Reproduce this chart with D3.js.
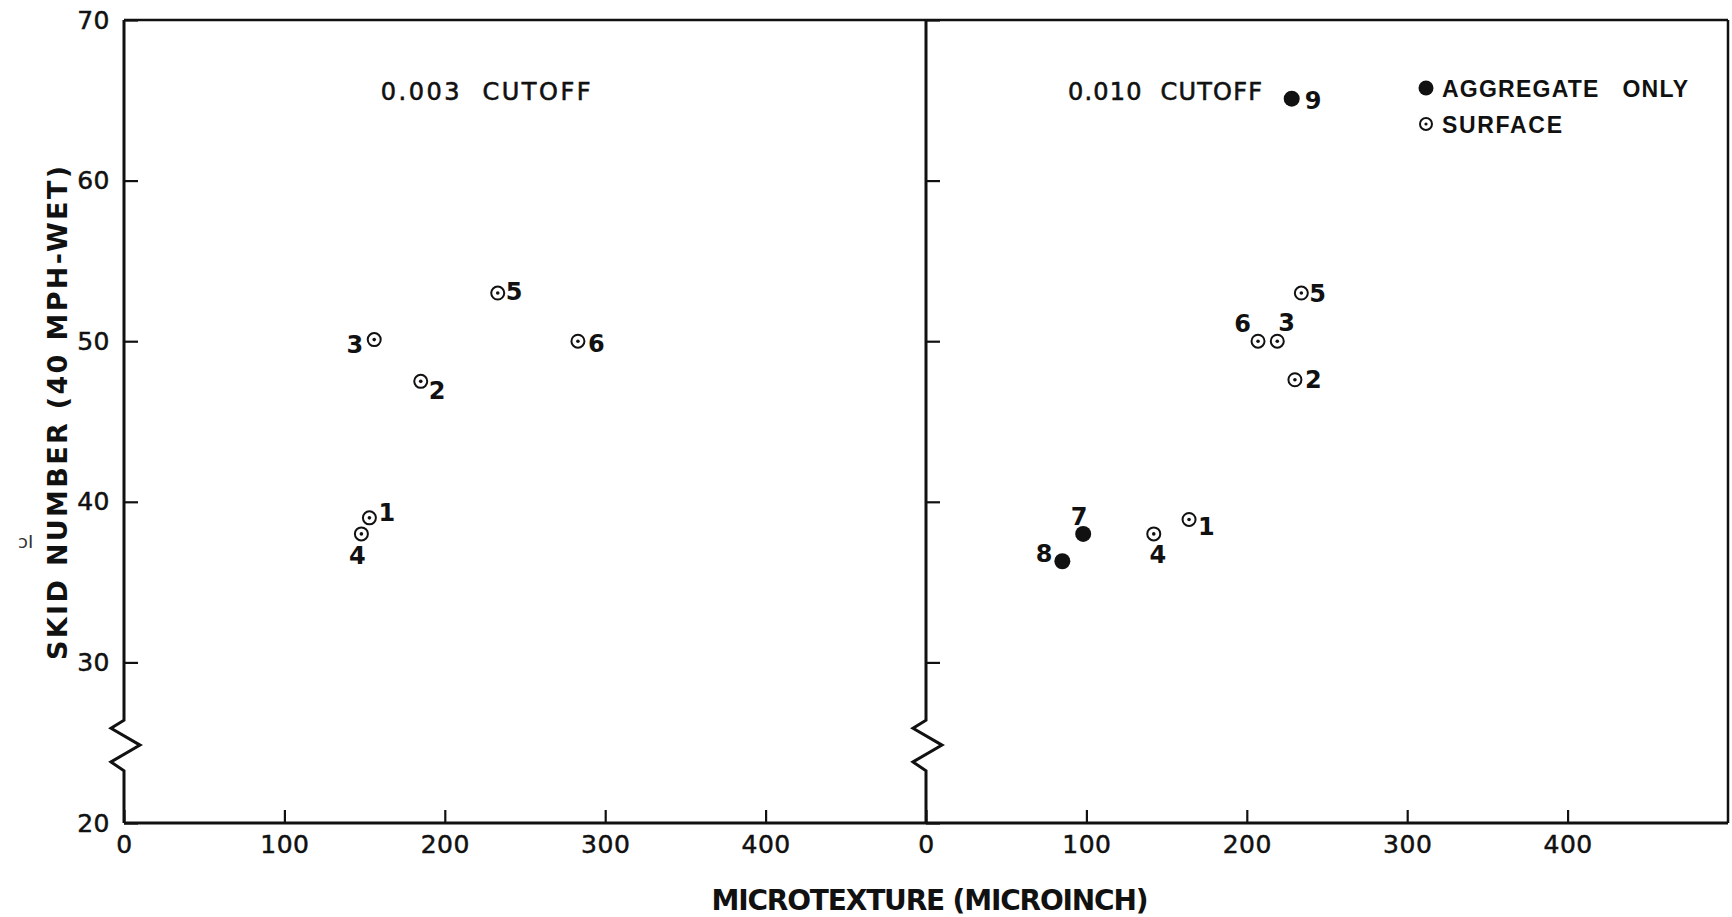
<!DOCTYPE html>
<html>
<head>
<meta charset="utf-8">
<script src="https://cdn.jsdelivr.net/npm/d3@7"></script>
<style>
  body { margin: 0; background: #fff; }
  svg text { font-family: "DejaVu Sans", sans-serif; fill: #111; }
</style>
</head>
<body>
<svg id="chart" width="1732" height="917"></svg>
<script>
//DATA
let panelTitles = ["0.003  CUTOFF", "0.010  CUTOFF"];

let leftIds = ["1", "2", "3", "4", "5", "6"];
let leftMicro = [153, 185, 156, 148, 233, 283];
let leftSkid = [39.0, 47.5, 50.1, 38.0, 53.0, 50.0];
let leftType = ["surface", "surface", "surface", "surface", "surface", "surface"];

let rightIds = ["1", "2", "3", "4", "5", "6", "7", "8", "9"];
let rightMicro = [164, 230, 219, 142, 234, 207, 98, 85, 228];
let rightSkid = [38.9, 47.6, 50.0, 38.0, 53.0, 50.0, 38.0, 36.3, 65.1];
let rightType = ["surface", "surface", "surface", "surface", "surface", "surface", "aggregate", "aggregate", "aggregate"];

let xTickValues = [0, 100, 200, 300, 400];
let yTickValues = [20, 30, 40, 50, 60, 70];
let legendLabels = ["AGGREGATE   ONLY", "SURFACE"];
let legendTypes = ["aggregate", "surface"];

//LAYOUT
let plotLeft = 124, plotMid = 926, plotRight = 1728, plotTop = 20, plotBottom = 823;
let ink = "#111";

// where each point number sits relative to its marker (dx, dy, anchor)
let labelPlace = [
  {"1": [9, 3, "start"], "2": [8, 18, "start"], "3": [-11, 13, "end"],
   "4": [-4, 30, "middle"], "5": [8, 7, "start"], "6": [10, 11, "start"]},
  {"1": [9, 16, "start"], "2": [10, 8, "start"], "3": [1, -10, "start"],
   "4": [4, 29, "middle"], "5": [8, 9, "start"], "6": [-7, -9, "end"],
   "7": [-4, -9, "middle"], "8": [-10, 1, "end"], "9": [13, 10, "start"]}
];

let svg = d3.select("#chart");

let y = d3.scaleLinear().domain([20, 70]).range([plotBottom, plotTop]);
let xScales = [
  d3.scaleLinear().domain([0, 500]).range([plotLeft, plotMid]),
  d3.scaleLinear().domain([0, 500]).range([plotMid, plotRight])
];

let panels = [
  leftIds.map((id, i) => ({id: id, x: leftMicro[i], y: leftSkid[i], type: leftType[i]})),
  rightIds.map((id, i) => ({id: id, x: rightMicro[i], y: rightSkid[i], type: rightType[i]}))
];

//FRAME
svg.append("line")
    .attr("x1", plotLeft).attr("x2", plotRight)
    .attr("y1", plotTop).attr("y2", plotTop)
    .attr("stroke", ink).attr("stroke-width", 2.5);
svg.append("line")
    .attr("x1", plotRight).attr("x2", plotRight)
    .attr("y1", plotTop).attr("y2", plotBottom)
    .attr("stroke", ink).attr("stroke-width", 2.5);

// axis break zigzag, in skid-number units
let breakVals = [26.4, 25.9, 24.85, 23.8, 23.25];
let breakDx = [0, -13, 16, -13, 0];

xScales.forEach(function(x, p) {
  let x0 = x(0);
  let pts = [[x0, y(70)]];
  breakVals.forEach((v, i) => pts.push([x0 + breakDx[i], y(v)]));
  pts.push([x0, y(20)]);

  svg.append("path")
      .attr("d", d3.line()(pts))
      .attr("fill", "none")
      .attr("stroke", ink)
      .attr("stroke-width", 3)
      .attr("stroke-linejoin", "miter");

  //X AXIS
  let xAxis = d3.axisBottom(x)
      .tickValues(xTickValues)
      .tickSizeInner(-13)
      .tickSizeOuter(0)
      .tickPadding(12);
  let gx = svg.append("g")
      .attr("transform", "translate(0," + plotBottom + ")")
      .call(xAxis);
  gx.select(".domain")
      .attr("d", "M" + x.range()[0] + ",0H" + x.range()[1])
      .attr("stroke", ink).attr("stroke-width", 3);
  gx.selectAll(".tick line").attr("stroke", ink).attr("stroke-width", 2.2);
  gx.selectAll(".tick text")
      .attr("fill", ink)
      .attr("stroke", ink)
      .attr("stroke-width", 0.5)
      .style("font-family", "DejaVu Sans")
      .style("font-size", "25px")
      .style("letter-spacing", "0.5px");

  //Y AXIS TICKS
  let yAxis = d3.axisLeft(y)
      .tickValues(yTickValues)
      .tickSizeInner(-14)
      .tickSizeOuter(0)
      .tickPadding(14)
      .tickFormat(p === 0 ? d3.format("d") : "");
  let gy = svg.append("g")
      .attr("transform", "translate(" + x0 + ",0)")
      .call(yAxis);
  gy.select(".domain").remove();
  gy.selectAll(".tick line").attr("stroke", ink).attr("stroke-width", 2.2);
  gy.selectAll(".tick text")
      .attr("fill", ink)
      .attr("stroke", ink)
      .attr("stroke-width", 0.5)
      .style("font-family", "DejaVu Sans")
      .style("font-size", "25px")
      .style("letter-spacing", "0.5px");

  //PANEL TITLE
  svg.append("text")
      .attr("x", x(p === 0 ? 160 : 88.5))
      .attr("y", y(65.0))
      .attr("textLength", p === 0 ? 210 : 194)
      .attr("lengthAdjust", "spacing")
      .attr("stroke", ink)
      .attr("stroke-width", 0.6)
      .style("white-space", "pre")
      .style("font-size", "24px")
      .text(panelTitles[p]);

  //POINTS
  let g = svg.append("g");
  let pt = g.selectAll("g.pt")
      .data(panels[p])
      .enter()
      .append("g")
      .attr("class", "pt")
      .attr("transform", d => "translate(" + x(d.x) + "," + y(d.y) + ")");

  pt.filter(d => d.type === "aggregate")
      .append("circle")
      .attr("r", 8)
      .attr("fill", ink);

  let surf = pt.filter(d => d.type === "surface");
  surf.append("circle")
      .attr("r", 6.5)
      .attr("fill", "#fff")
      .attr("stroke", ink)
      .attr("stroke-width", 2);
  surf.append("circle")
      .attr("r", 1.8)
      .attr("fill", ink);

  pt.append("text")
      .attr("x", d => labelPlace[p][d.id][0])
      .attr("y", d => labelPlace[p][d.id][1])
      .attr("text-anchor", d => labelPlace[p][d.id][2])
      .style("font-size", "24px")
      .style("font-weight", "bold")
      .text(d => d.id);
});

//LEGEND
let legend = svg.append("g")
    .attr("transform", "translate(1426,88)");

let rows = legend.selectAll("g")
    .data(legendLabels)
    .enter()
    .append("g")
    .attr("transform", (d, i) => "translate(0," + (i * 36) + ")");

rows.each(function(d, i) {
  let row = d3.select(this);
  if (legendTypes[i] === "aggregate") {
    row.append("circle").attr("r", 7.5).attr("fill", ink);
  } else {
    row.append("circle").attr("r", 6).attr("fill", "#fff")
        .attr("stroke", ink).attr("stroke-width", 2);
    row.append("circle").attr("r", 1.6).attr("fill", ink);
  }
});

rows.append("text")
    .attr("x", 16)
    .attr("y", 9)
    .attr("textLength", (d, i) => i === 0 ? 246 : 120)
    .attr("lengthAdjust", "spacing")
    .style("white-space", "pre")
    .style("font-family", "Liberation Sans")
    .style("font-weight", "bold")
    .style("font-size", "23px")
    .text(d => d);

//AXIS TITLES
svg.append("text")
    .attr("transform", "translate(67,413) rotate(-90)")
    .attr("text-anchor", "middle")
    .attr("textLength", 494)
    .attr("lengthAdjust", "spacing")
    .style("font-size", "27px")
    .style("font-weight", "bold")
    .text("SKID NUMBER (40 MPH-WET)");

svg.append("text")
    .attr("x", 930)
    .attr("y", 910)
    .attr("text-anchor", "middle")
    .attr("textLength", 437)
    .attr("lengthAdjust", "spacing")
    .style("font-size", "28px")
    .style("font-weight", "bold")
    .text("MICROTEXTURE (MICROINCH)");

// stray mark from the scanned page
svg.append("text")
    .attr("x", 18)
    .attr("y", 548)
    .style("font-size", "18px")
    .style("fill", "#333")
    .text("ɔI");
</script>
</body>
</html>
